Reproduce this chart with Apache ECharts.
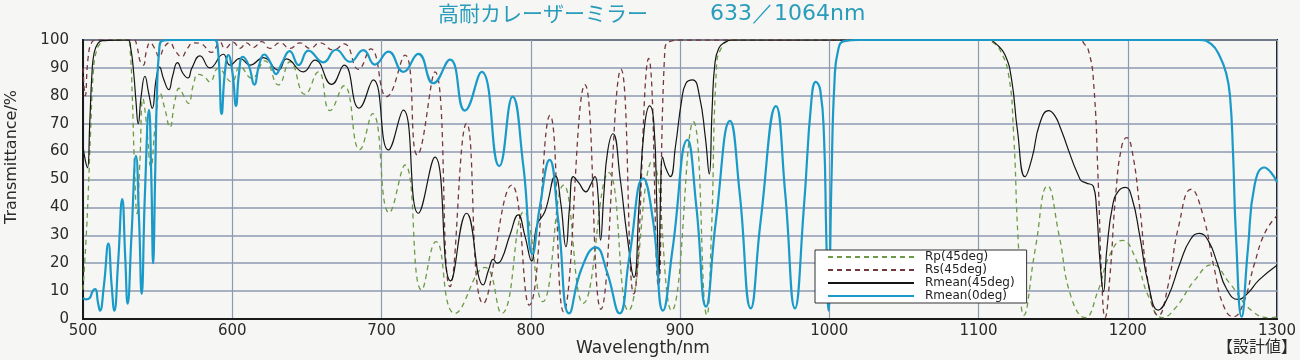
<!DOCTYPE html>
<html>
<head>
<meta charset="utf-8">
<script src="https://cdn.jsdelivr.net/npm/echarts@6/dist/echarts.min.js"></script>
<style>
html,body{margin:0;padding:0;background:#f6f6f4;}
#chart{width:1300px;height:360px;}
</style>
</head>
<body>
<div id="chart"></div>
<script>
// ---- data (wavelength nm, value %) ----
const seriesNames = ['Rp(45deg)', 'Rs(45deg)', 'Rmean(45deg)', 'Rmean(0deg)'];
const xTicks = [500, 600, 700, 800, 900, 1000, 1100, 1200, 1300];
const yTicks = [0, 10, 20, 30, 40, 50, 60, 70, 80, 90, 100];

const rp45 = [
  [500,10.5],[502,28],[503.5,45],[505,66],[507,89],[509.2,96.4],[512,99],[514,99.8],[530,100],
  [531.5,97],[533,80],[534.5,55],[536.2,37.8],[538,55],[540.2,79],[542.5,70],[545.5,54.6],[548.5,70],
  [551.6,80.9],[555,75],[558.2,68.7],[561.5,78],[564.5,82.7],[567.5,80],[570.6,77.3],[574,84],[577,87.7],
  [581,87],[585,85],[590.6,89.8],[599.6,85],[605.2,90.4],[613,86.3],[621.9,92.5],[630.9,83.9],[638.7,92.2],
  [648.7,80.5],[657.7,88.6],[665.5,74.7],[674.8,83.6],[685.4,60.7],[694,73.6],[705.2,38.1],[715.7,55.2],
  [726.9,10.4],[736.5,27.7],[749.2,2],[769.3,18.5],[780.5,2],[795.5,38.5],[808,6.2],[822,48],[835.2,5.6],
  [852.3,52.5],[865.4,3],[881.5,56.6],[894.4,3],[909,70.7],[918,1.4],[921,30],[924.6,91.6],[928,97.5],
  [931.3,99.4],[936,100],[1105,100],[1110,99],[1114.4,96.4],[1120,88],[1123.4,67.7],[1126.7,27],[1130.5,1.4],
  [1138,25],[1146.3,47.7],[1154,30],[1162,8],[1171.4,0.5],[1180,10],[1188,23],[1196.5,28.2],[1205,22],
  [1214,8],[1223.3,0.5],[1232,4],[1245,14],[1256.5,19.4],[1268,13],[1283,3],[1295.4,0.5],[1300,0.8]
];

const rs45 = [
  [500,90],[501.5,80],[503.5,94],[506,99.3],[509,100],[534,100],[536,98],[538.5,92],[540.4,91],[542.5,96],
  [545,99],[548,97],[551,94],[554.5,97.5],[558,99],[562,96],[566,94],[570,97],[574,99],[578.4,98.8],
  [586.2,95.6],[591.8,99.2],[595.1,97],[600.7,99.2],[605.2,97],[609.6,99],[614.1,97.3],[619.7,99.4],
  [625.3,97],[632,99],[638.7,97],[645.4,99],[652.1,97],[658.8,99],[667.7,96.4],[675,98.6],[684.5,89.5],
  [692.8,96.8],[703.5,79.7],[715.7,94.6],[724,58.8],[735.8,88.6],[745.9,11.6],[757,70.1],[768.2,5.6],
  [787.2,48],[799,5],[812.9,73],[822,2.6],[836.3,84],[847,3.5],[860.5,89.5],[869,9],[879,93.4],[885.5,12],
  [889.9,97],[894,99.6],[900,100],[1168,100],[1171,98.5],[1173.6,96.4],[1177,85.7],[1180.3,48],[1182.5,15],
  [1184.8,0.5],[1188,15],[1192,45],[1196,62],[1199.3,65],[1203,60],[1208,40],[1214,12],[1220.5,1.2],
  [1227,12],[1234,33],[1242.5,46.5],[1250,38],[1258,18],[1264,5],[1270.7,0.8],[1277,5],[1285,20],
  [1292,31],[1300,37]
];

const rmean45 = [
  [500,62],[501.5,57],[503,54.2],[504.5,70],[506,88],[507.5,95.5],[510,98.8],[513,99.8],[530,100],
  [532,97],[534,88],[535.5,78],[537,70],[539,80],[541.5,87],[544,81],[546.4,75.5],[549,86],[551.3,90.3],
  [554,86],[557.5,82.2],[560,87],[563.3,91.9],[567,88],[570.3,86.4],[573,90],[578.4,94.3],[585,90],
  [594,94.9],[598.5,91],[605.2,93.4],[611.9,91],[620.8,93.7],[630.9,89.2],[636.4,93.2],[647.6,88.6],
  [655.4,92.8],[666.6,84.1],[675,91],[685,75.6],[694.5,85.7],[704.6,60.6],[714.6,74.9],[724.7,37.9],
  [735.8,58],[746.3,13.7],[757,37.9],[768.2,12.2],[772,18],[774.9,21.4],[777.5,20],[780.5,21.4],[786,30],
  [791.6,37.3],[796,30],[800.6,20.8],[804,33.5],[809.5,38.5],[816.5,51.2],[820,42],[823.6,25.9],[826,40],
  [828.5,51],[832,49],[837,45.6],[840,48],[843,51],[845,45],[846.8,28.3],[849,45],[851.5,60],[855.1,66.4],
  [860,50],[864.5,30],[869.2,14.9],[872.5,40],[876,68],[879.7,76.4],[882.5,70],[884.5,40],[885.8,15],
  [887,45],[888.3,58],[890.5,54],[893.5,51],[897,62],[901,78],[904,84.5],[908.5,85.7],[913,80],[917,65],
  [919.6,52],[921.5,75],[923.4,91.6],[926,97],[930,99.2],[935,100],[1107,100],[1112,98.5],[1117.8,94.6],
  [1122.2,85.7],[1126,68],[1131.2,51],[1136,58],[1141,70],[1147,74.7],[1151,73],[1154.6,68.9],[1168,50.1],
  [1172,48.8],[1177,47.5],[1179,40],[1181.5,20],[1183.7,9.8],[1186,25],[1190,41],[1194,46],[1198.5,47.2],
  [1203,43],[1208,30],[1214,12],[1220.5,3.2],[1227,8],[1235,20],[1242,28.5],[1248,30.7],[1254,28],
  [1260,20],[1266,11],[1274,7],[1280,9],[1288,14],[1300,19.3]
];

const rmean0 = [
  [500,7.5],[502,7],[504.5,7.5],[506.5,10],[508.3,10.7],[510,6],[511.4,3],[514,12],[517,27],[519.2,12],
  [521,3],[523.5,20],[526.3,43],[528.3,22],[529.9,5.5],[532.5,30],[535.5,58.5],[537.6,35],[539.3,9],
  [541.5,45],[544.2,75],[545.8,50],[547,20],[548.3,50],[549.5,80],[551,96],[553,99.7],[560,100],[588,100],
  [590.5,96],[592.9,73.5],[595,88],[597.4,94.6],[600.2,88],[602.5,76.4],[604.5,88],[607,94],[611,91],
  [614.8,84],[618,91],[621.5,94.8],[625.5,92],[629.3,87.8],[633.5,92],[638.5,96],[644.5,91],[651,96.2],
  [661,92],[669.5,96.5],[679,92.2],[687.8,96.4],[695.6,91.2],[704.6,95.8],[714.6,88.6],[724.7,95],
  [734.7,84.5],[745.9,93],[755.9,74.7],[767.1,88.6],[778.9,54.8],[787.8,79.7],[795,55],[801.2,23.3],
  [806,40],[812.6,57],[818.5,35],[825.8,2],[834,18],[843.5,25.7],[851,17],[859.5,2],[866,22],[875.4,50.4],
  [882,35],[888.6,3],[895,25],[905,64.2],[911,40],[917.4,4.4],[924,35],[933.5,71],[940,45],[947.4,3.8],
  [954,35],[964.3,76.3],[970.5,45],[977,3.8],[983,40],[988,78],[991,85],[994,82],[996.5,65],[998,30],
  [999.5,3],[1001.5,50],[1003.5,85],[1006,96.5],[1010,99.6],[1020,100],[1248,100],[1256,98.5],[1261.8,94],
  [1266,88],[1268.5,80],[1270.5,60],[1272.5,30],[1276.3,0.8],[1280.5,25],[1285,48],[1291.5,54.3],
  [1296,52.5],[1300,49]
];

const titleMain = '高耐カレーザーミラー';
const titleSub = '633／1064nm';
const xName = 'Wavelength/nm';
const yName = 'Transmittance/%';
const note = '【設計値】';

const chart = echarts.init(document.getElementById('chart'), null, {renderer: 'canvas'});
const gridColor = '#8d9ab0';
const font = 'DejaVu Sans';

function lineSeries(name, data, color, width, type) {
  return {
    name: name, type: 'line', data: data, symbol: 'none', showSymbol: false, smooth: 0.5,
    lineStyle: {color: color, width: width, type: type},
    itemStyle: {color: color},
    clip: true, animation: false
  };
}

chart.setOption({
  backgroundColor: '#f6f6f4',
  animation: false,
  grid: {left: 83, right: 23, top: 40, bottom: 41, show: true, borderColor: '#1a1a1a', borderWidth: 2, backgroundColor: 'transparent'},
  legend: {
    data: seriesNames,
    orient: 'vertical', left: 815, top: 250,
    itemWidth: 86, itemHeight: 10, itemGap: 1,
    padding: [1, 12, 1, 12],
    itemStyle: {opacity: 0},
    backgroundColor: '#ffffff', borderColor: '#333', borderWidth: 1, borderRadius: 0,
    textStyle: {fontFamily: font, fontSize: 12, color: '#222', lineHeight: 12, padding: [0, 0, 0, 6]}
  },
  xAxis: {
    type: 'value', min: xTicks[0], max: xTicks[xTicks.length - 1], interval: 100,
    axisLine: {show: true, lineStyle: {color: '#1a1a1a', width: 2}},
    axisTick: {show: false},
    splitLine: {show: true, lineStyle: {color: gridColor, width: 1.2}},
    axisLabel: {fontFamily: font, fontSize: 15, color: '#2a2a2a', margin: 5, formatter: function (v) { return String(v); }}
  },
  yAxis: {
    type: 'value', min: yTicks[0], max: yTicks[yTicks.length - 1], interval: 10,
    axisLine: {show: true, lineStyle: {color: '#1a1a1a', width: 2}},
    axisTick: {show: false},
    splitLine: {show: true, lineStyle: {color: gridColor, width: 1.5}},
    axisLabel: {fontFamily: font, fontSize: 15, color: '#2a2a2a', margin: 14, formatter: function (v) { return String(v); }}
  },
  graphic: [
    {type: 'text', left: 438, top: 3, style: {text: titleMain, fontFamily: 'Noto Sans CJK JP', fontSize: 21, fill: '#2a9cbb'}},
    {type: 'text', left: 710, top: 3, style: {text: titleSub, fontFamily: font, fontSize: 22, fill: '#2a9cbb'}},
    {type: 'text', left: 576, top: 340, style: {text: xName, fontFamily: font, fontSize: 17, fill: '#2a2a2a'}},
    {type: 'text', x: 4, y: 224, rotation: Math.PI / 2, style: {text: yName, fontFamily: font, fontSize: 16, fill: '#2a2a2a', align: 'left', verticalAlign: 'top'}},
    {type: 'text', left: 1217, top: 338, style: {text: note, fontFamily: 'Noto Sans CJK JP', fontSize: 16, fill: '#2a2a2a'}}
  ],
  series: [
    lineSeries(seriesNames[0], rp45, '#6c9a45', 1.3, [5, 4]),
    lineSeries(seriesNames[1], rs45, '#74383a', 1.3, [5, 4]),
    lineSeries(seriesNames[2], rmean45, '#151515', 1.2, 'solid'),
    lineSeries(seriesNames[3], rmean0, '#1a9ac8', 2.2, 'solid')
  ]
});
</script>
</body>
</html>
